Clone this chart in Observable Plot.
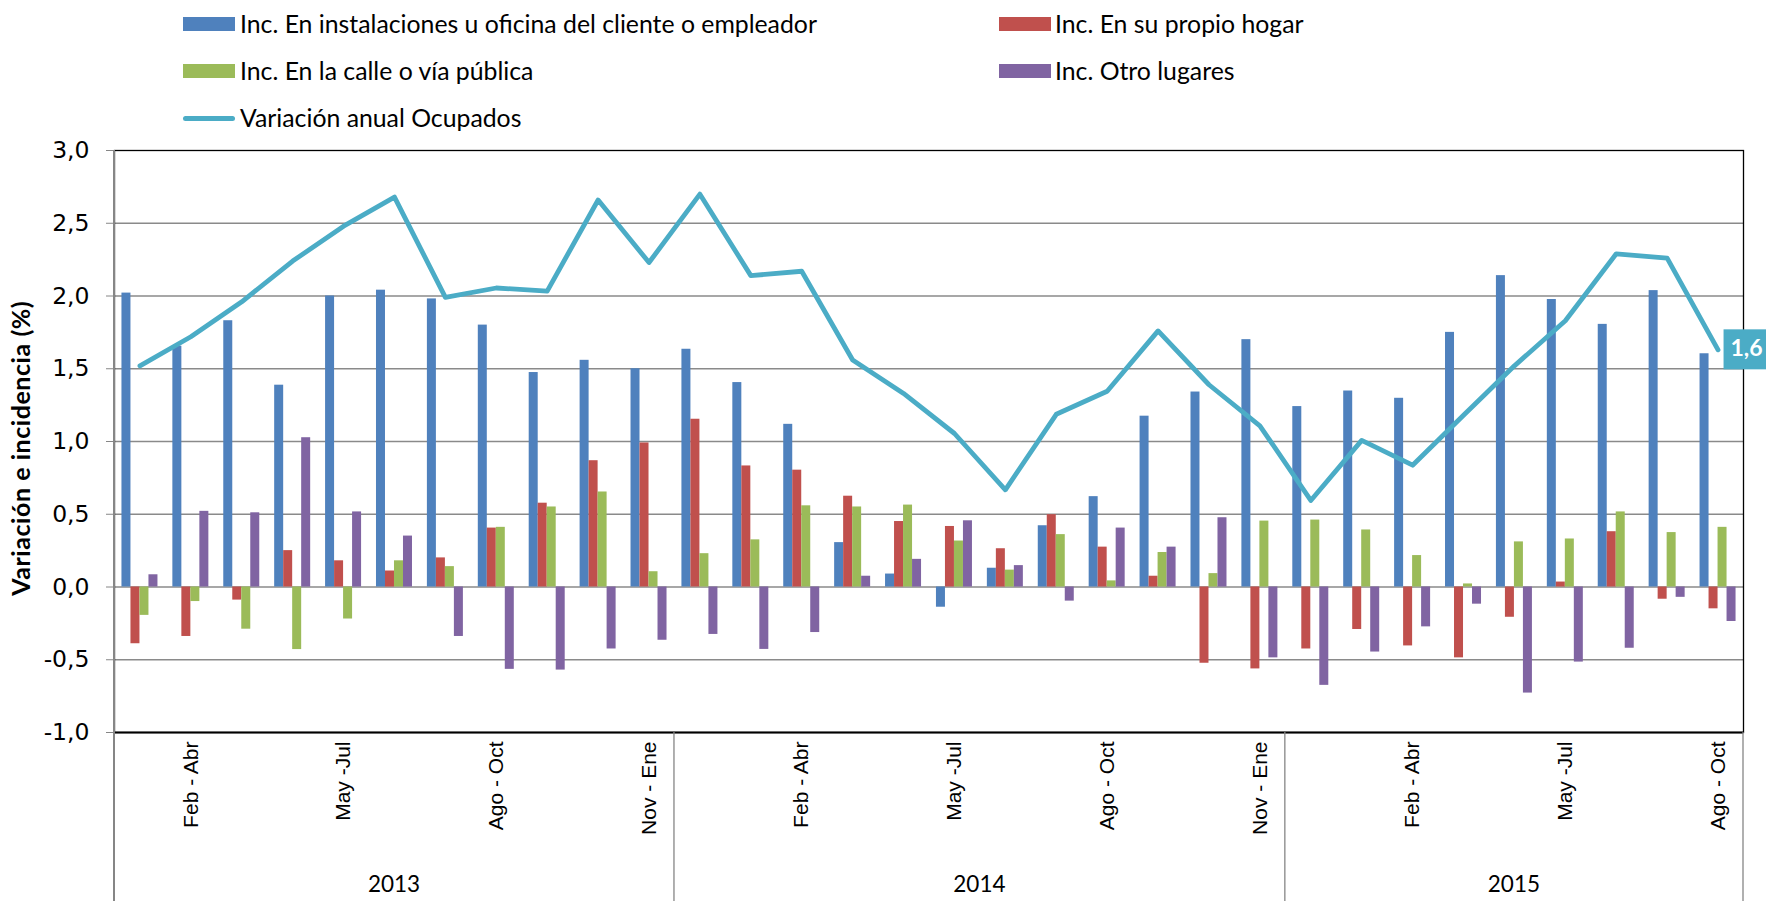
<!DOCTYPE html>
<html>
<head>
<meta charset="utf-8">
<script src="https://cdn.jsdelivr.net/npm/d3@7"></script>
<script src="https://cdn.jsdelivr.net/npm/@observablehq/plot@0.6"></script>
<style>
  html, body { margin: 0; padding: 0; background: #fff; }
  body { width: 1766px; height: 901px; overflow: hidden; position: relative; }
  #legend { position: relative; width: 1766px; height: 140px; font-family: Lato, "Open Sans", sans-serif; font-size: 24.8px; color: #000; }
  .sw { position: absolute; height: 14px; width: 52px; }
  .ln { position: absolute; height: 5px; width: 52px; border-radius: 3px; }
  .lt { position: absolute; line-height: 1; white-space: nowrap; transform: translateY(-50%); }
  #chart { position: absolute; left: 0; top: 140px; }
</style>
</head>
<body>
<div id="legend"></div>
<div id="chart"></div>
<script>
// ---------- DATA ----------
const anios = ["2013", "2014", "2015"];
const periodoAnio = [
  "2013","2013","2013","2013","2013","2013","2013","2013","2013","2013","2013",
  "2014","2014","2014","2014","2014","2014","2014","2014","2014","2014","2014","2014",
  "2015","2015","2015","2015","2015","2015","2015","2015","2015"
];
const periodos = [
  "Ene - Mar","Feb - Abr","Mar - May","Abr - Jun","May -Jul","Jun - Ago","Jul - Sep","Ago - Oct","Sep - Nov","Oct - Dic","Nov - Ene",
  "Dic - Feb","Ene - Mar","Feb - Abr","Mar - May","Abr - Jun","May -Jul","Jun - Ago","Jul - Sep","Ago - Oct","Sep - Nov","Oct - Dic","Nov - Ene",
  "Dic - Feb","Ene - Mar","Feb - Abr","Mar - May","Abr - Jun","May -Jul","Jun - Ago","Jul - Sep","Ago - Oct"
];
// Periods whose label is printed on the axis
const periodosVisibles = [1, 4, 7, 10, 13, 16, 19, 22, 25, 28, 31];

const incInstalaciones = [2.02, 1.655, 1.83, 1.387, 2.00, 2.04, 1.98, 1.80, 1.474, 1.558, 1.50,
  1.634, 1.405, 1.118, 0.305, 0.089, -0.139, 0.129, 0.421, 0.621, 1.174, 1.34, 1.70,
  1.24, 1.347, 1.297, 1.75, 2.14, 1.976, 1.805, 2.037, 1.603];
const incHogar = [-0.39, -0.34, -0.09, 0.25, 0.18, 0.11, 0.20, 0.405, 0.576, 0.868, 0.99,
  1.153, 0.832, 0.803, 0.624, 0.45, 0.416, 0.263, 0.497, 0.274, 0.074, -0.524, -0.563,
  -0.426, -0.292, -0.405, -0.487, -0.208, 0.034, 0.38, -0.084, -0.15];
const incCalle = [-0.195, -0.10, -0.29, -0.43, -0.22, 0.18, 0.14, 0.41, 0.55, 0.653, 0.105,
  0.229, 0.324, 0.558, 0.55, 0.563, 0.316, 0.116, 0.36, 0.042, 0.237, 0.092, 0.453,
  0.46, 0.392, 0.216, 0.021, 0.31, 0.33, 0.516, 0.374, 0.41];
const incOtros = [0.084, 0.52, 0.51, 1.026, 0.516, 0.35, -0.34, -0.566, -0.571, -0.426, -0.366,
  -0.326, -0.429, -0.313, 0.074, 0.19, 0.455, 0.147, -0.097, 0.405, 0.274, 0.476, -0.487,
  -0.676, -0.447, -0.274, -0.118, -0.729, -0.516, -0.421, -0.071, -0.237];
const variacionOcupados = [1.52, 1.72, 1.96, 2.24, 2.48, 2.68, 1.99, 2.055, 2.034, 2.66, 2.23,
  2.70, 2.14, 2.17, 1.56, 1.33, 1.055, 0.668, 1.187, 1.345, 1.76, 1.39, 1.108,
  0.595, 1.008, 0.837, 1.18, 1.52, 1.83, 2.29, 2.26, 1.63];

const nombresSeries = [
  "Inc. En instalaciones u oficina del cliente o empleador",
  "Inc. En su propio hogar",
  "Inc. En la calle o vía pública",
  "Inc. Otro lugares"
];
const nombreLinea = "Variación anual Ocupados";
const colores = ["#4F81BD", "#C0504D", "#9BBB59", "#8064A2"];
const colorLinea = "#4BACC6";
const yTicks = [-1, -0.5, 0, 0.5, 1, 1.5, 2, 2.5, 3];
const tituloY = "Variación e incidencia (%)";

// ---------- LEGEND (HTML) ----------
const legend = document.getElementById("legend");
const legendPos = [
  {sx: 183, tx: 240, cy: 24},
  {sx: 999, tx: 1055, cy: 24},
  {sx: 183, tx: 240, cy: 71},
  {sx: 999, tx: 1055, cy: 71}
];
nombresSeries.forEach((n, i) => {
  const p = legendPos[i];
  const s = document.createElement("div");
  s.className = "sw"; s.style.left = p.sx + "px"; s.style.top = (p.cy - 7) + "px"; s.style.background = colores[i];
  legend.appendChild(s);
  const t = document.createElement("div");
  t.className = "lt"; t.style.left = p.tx + "px"; t.style.top = p.cy + "px"; t.textContent = n;
  legend.appendChild(t);
});
{
  const s = document.createElement("div");
  s.className = "ln"; s.style.left = "183px"; s.style.top = (118 - 2.5) + "px"; s.style.background = colorLinea;
  legend.appendChild(s);
  const t = document.createElement("div");
  t.className = "lt"; t.style.left = "240px"; t.style.top = "118px"; t.textContent = nombreLinea;
  legend.appendChild(t);
}

// ---------- TABLES ----------
const keys = periodos.map((p, i) => periodoAnio[i] + " " + p);
const labelOf = new Map(keys.map((k, i) => [k, periodos[i]]));
const seriesArrays = [incInstalaciones, incHogar, incCalle, incOtros];
const barRows = seriesArrays.map((arr, s) => arr.map((v, i) => ({key: keys[i], serie: s, value: v})));
const lineRows = variacionOcupados.map((v, i) => ({key: keys[i], value: v}));

// ---------- LAYOUT ----------
const W = 1766, H = 761;
const mL = 114, mR = 23, mT = 10, mB = 169;
const bw = (W - mL - mR) / keys.length;
const barW = 9;
const inset = (bw - barW) / 2;
const fmt = v => d3.format(".1f")(v).replace(".", ",").replace("\u2212", "-");

// custom decorations: axis line, category group separators, year labels, axis title, end label
function decorations(index, scales, values, dims) {
  const x = scales.x, y = scales.y;
  const band = x.bandwidth ? x.bandwidth() : (x(keys[1]) - x(keys[0]));
  const g = d3.create("svg:g");
  const yBottom = dims.height - dims.marginBottom;
  const yTop = dims.marginTop;
  // left axis line (gray) spanning plot and category area
  g.append("line").attr("x1", x(keys[0])).attr("x2", x(keys[0]))
    .attr("y1", yTop).attr("y2", dims.height)
    .attr("stroke", "#868686").attr("stroke-width", 2);
  // group separators + year labels
  anios.forEach((a, j) => {
    const ks = keys.filter((k, i) => periodoAnio[i] === a);
    const x0 = x(ks[0]), x1 = x(ks[ks.length - 1]) + band;
    if (j > 0) {
      g.append("line").attr("x1", x0).attr("x2", x0).attr("y1", yBottom).attr("y2", dims.height)
        .attr("stroke", "#868686").attr("stroke-width", 1.3);
    }
    if (j === anios.length - 1) {
      g.append("line").attr("x1", x1).attr("x2", x1).attr("y1", yBottom).attr("y2", dims.height)
        .attr("stroke", "#868686").attr("stroke-width", 1.3);
    }
    g.append("text").attr("x", (x0 + x1) / 2).attr("y", dims.height - 15)
      .attr("text-anchor", "middle").attr("dominant-baseline", "middle")
      .attr("font-family", "Lato, 'Open Sans', sans-serif").attr("font-size", 22.5).attr("fill", "#000")
      .text(a);
  });
  // y axis title
  const ty = (y(2.05) + y(-0.15)) / 2;
  g.append("text").attr("transform", `translate(${x(keys[0]) - 90},${ty}) rotate(-90)`)
    .attr("text-anchor", "middle").attr("dominant-baseline", "middle")
    .attr("font-family", "Lato, 'Open Sans', sans-serif").attr("font-weight", "bold")
    .attr("font-size", 25).attr("letter-spacing", "0.55px").attr("fill", "#000")
    .text(tituloY);
  // end label box
  const last = lineRows[lineRows.length - 1];
  const px = x(last.key) + band / 2, py = y(last.value);
  const bx = px + 6, bh = 40, bwid = 44;
  g.append("rect").attr("x", bx).attr("y", py - bh / 2).attr("width", bwid).attr("height", bh).attr("fill", colorLinea);
  g.append("text").attr("x", bx + bwid / 2 + 1).attr("y", py + 1)
    .attr("text-anchor", "middle").attr("dominant-baseline", "middle")
    .attr("font-family", "Lato, 'Open Sans', sans-serif").attr("font-weight", "bold").attr("font-size", 23).attr("fill", "#fff")
    .text(fmt(last.value));
  return g.node();
}

const chart = Plot.plot({
  width: W, height: H,
  marginLeft: mL, marginRight: mR, marginTop: mT, marginBottom: mB,
  style: {background: "#fff", overflow: "visible"},
  x: {type: "band", domain: keys, padding: 0, round: false},
  y: {domain: [-1, 3]},
  marks: [
    Plot.ruleY(yTicks.filter(v => v > -1 && v < 3), {stroke: "#8a8a8a", strokeWidth: 1.6}),
    Plot.frame({stroke: "#000", strokeWidth: 1.3}),
    ...barRows.map((rows, s) => Plot.barY(rows, {
      x: "key", y: "value", fill: colores[s],
      insetLeft: inset, insetRight: inset, dx: (s - 1.5) * barW
    })),
    Plot.ruleY([-1], {stroke: "#000", strokeWidth: 2}),
    Plot.lineY(lineRows, {x: "key", y: "value", stroke: colorLinea, strokeWidth: 4.8, strokeLinejoin: "round", strokeLinecap: "round"}),
    Plot.axisY({ticks: yTicks, tickFormat: fmt, tickSize: 8, tickPadding: 17, stroke: "#868686", fill: "#000",
      fontSize: 23.5, fontFamily: "'DejaVu Sans', Verdana, sans-serif", label: null}),
    Plot.axisX({ticks: periodosVisibles.map(i => keys[i]), tickFormat: k => labelOf.get(k), tickRotate: -90,
      tickSize: 0, tickPadding: 9, fontSize: 21, fontFamily: "'Liberation Sans', Arial, sans-serif", fill: "#000", label: null}),
    decorations
  ]
});
document.getElementById("chart").appendChild(chart);
</script>
</body>
</html>
